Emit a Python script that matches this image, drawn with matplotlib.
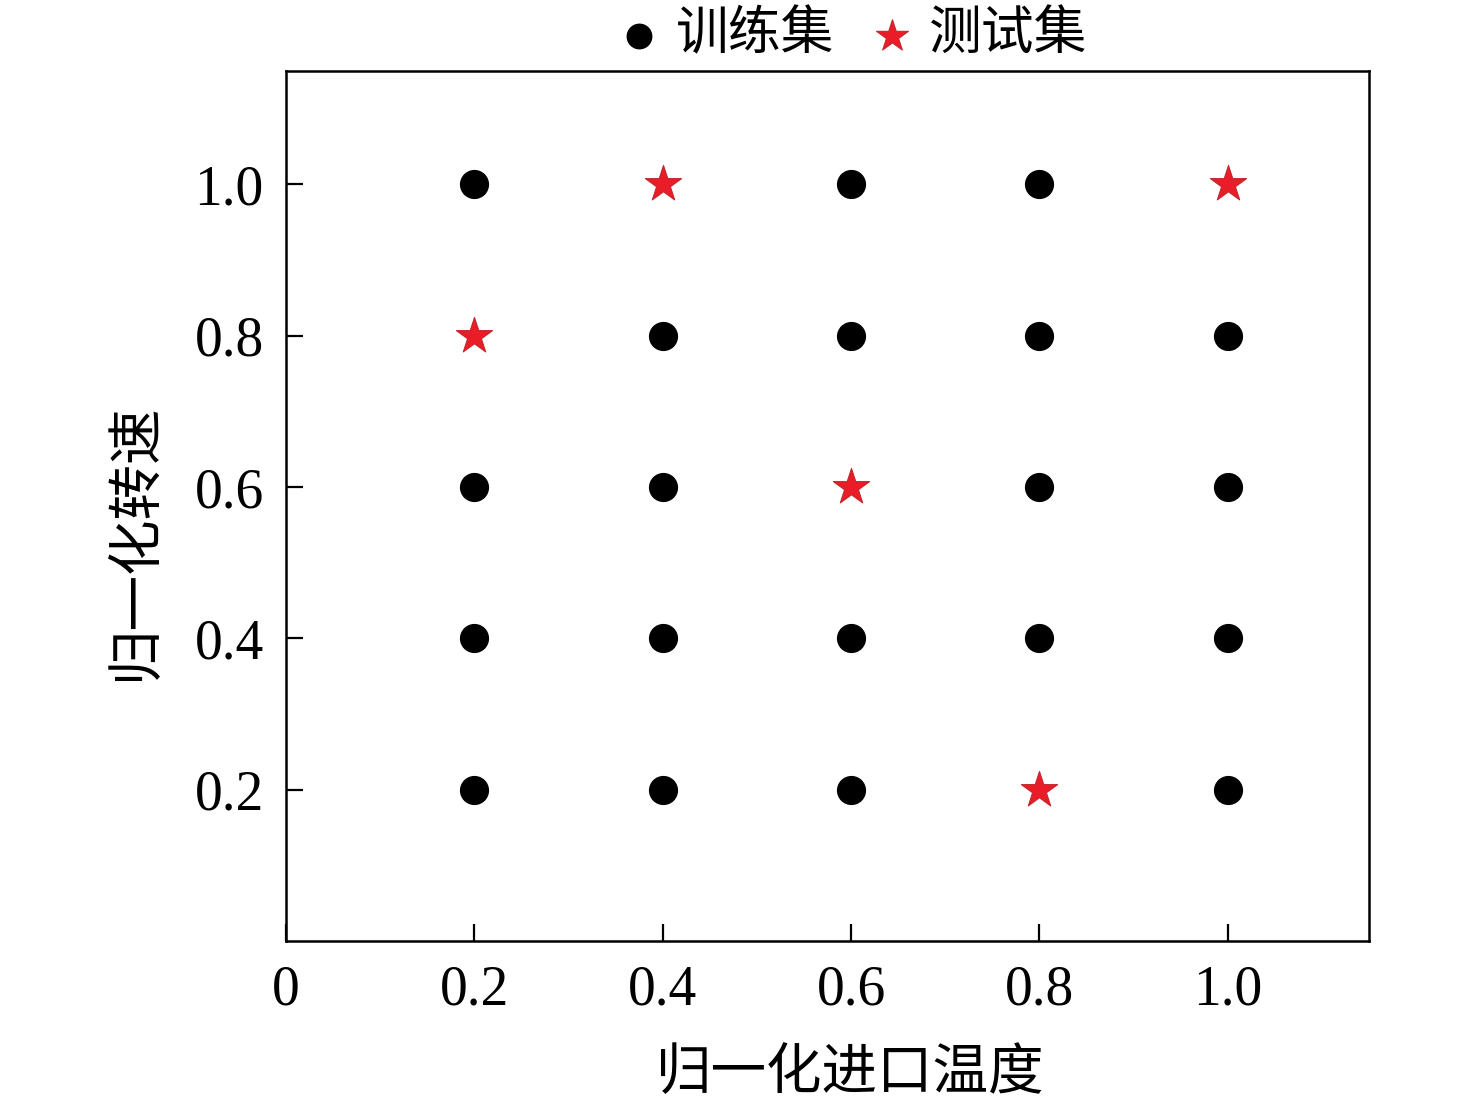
import matplotlib
matplotlib.use('Agg')
import matplotlib.pyplot as plt

# grid of normalised inlet temperature / speed points
train_x = [0.2, 0.6, 0.8,
           0.4, 0.6, 0.8, 1.0,
           0.2, 0.4, 0.8, 1.0,
           0.2, 0.4, 0.6, 0.8, 1.0,
           0.2, 0.4, 0.6, 1.0]
train_y = [1.0, 1.0, 1.0,
           0.8, 0.8, 0.8, 0.8,
           0.6, 0.6, 0.6, 0.6,
           0.4, 0.4, 0.4, 0.4, 0.4,
           0.2, 0.2, 0.2, 0.2]
test_x = [0.4, 1.0, 0.2, 0.6, 0.8]
test_y = [1.0, 1.0, 0.8, 0.6, 0.2]

xticks = [0, 0.2, 0.4, 0.6, 0.8, 1.0]
xticklabels = ['0', '0.2', '0.4', '0.6', '0.8', '1.0']
yticks = [0.2, 0.4, 0.6, 0.8, 1.0]
yticklabels = ['0.2', '0.4', '0.6', '0.8', '1.0']

cjk = ['Noto Sans CJK SC', 'DejaVu Sans']
num = ['Liberation Serif', 'DejaVu Serif']

fig = plt.figure(figsize=(14.76, 11.06), dpi=100)
ax = fig.add_axes([0.1938, 0.1492, 0.7337, 0.7866])

ax.scatter(train_x, train_y, s=400, c='black', marker='o', label='训练集', zorder=3)
ax.scatter(test_x, test_y, s=750, c='#ea1c27', edgecolors='#c0282e', linewidths=0.8,
           marker='*', label='测试集', zorder=3)

ax.set_xlim(0, 1.15)
ax.set_ylim(0, 1.15)
ax.set_xticks(xticks)
ax.set_xticklabels(xticklabels, fontfamily=num, fontsize=40)
ax.set_yticks(yticks)
ax.set_yticklabels(yticklabels, fontfamily=num, fontsize=40)
ax.tick_params(direction='in', length=12, width=1.6, pad=17)
ax.tick_params(axis='y', pad=16)

for sp in ax.spines.values():
    sp.set_linewidth(1.8)

ax.set_xlabel('归一化进口温度', fontfamily=cjk, fontsize=40, labelpad=20, x=0.521)
ax.set_ylabel('归一化转速', fontfamily=cjk, fontsize=40, labelpad=22, y=0.46)

leg = ax.legend(loc='lower center', bbox_to_anchor=(0.521, 1.005), ncol=2, frameon=False,
                prop={'family': cjk, 'size': 38}, handlelength=1.0, handletextpad=0.2,
                columnspacing=0.6, markerscale=0.88, borderaxespad=0.0, borderpad=0.1)

fig.savefig('out.png', dpi=100, facecolor='white')
